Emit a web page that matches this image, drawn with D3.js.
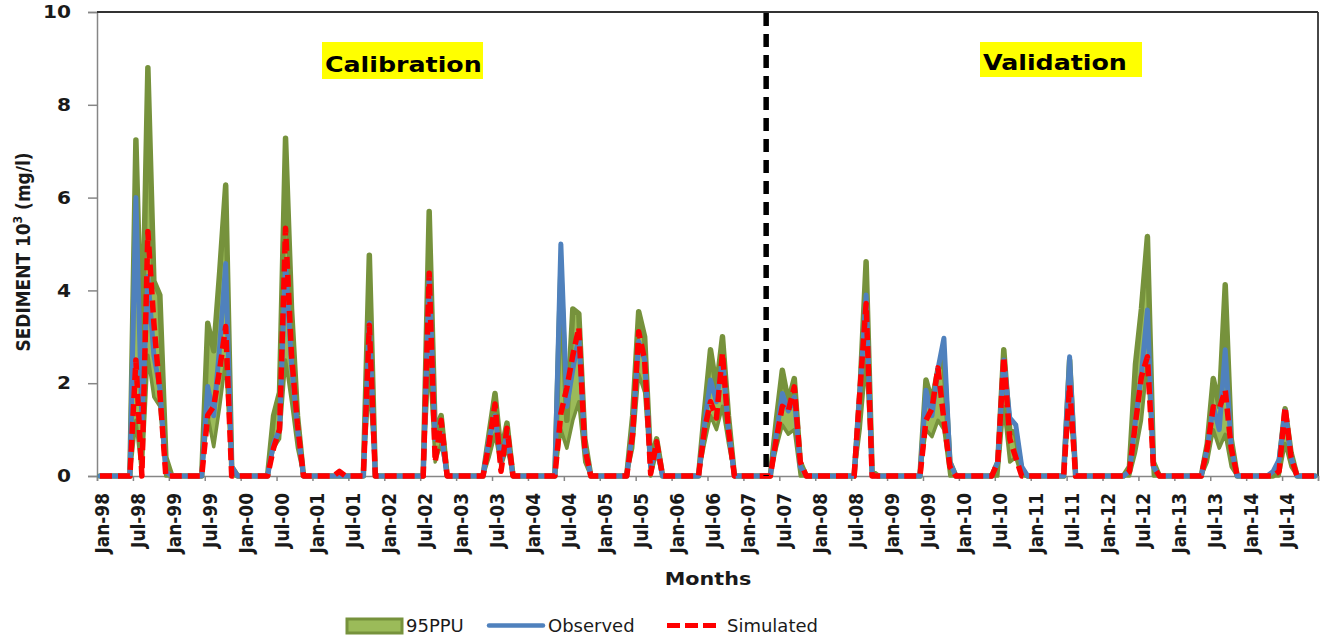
<!DOCTYPE html>
<html>
<head>
<meta charset="utf-8">
<script src="https://cdn.jsdelivr.net/npm/d3@7"></script>
<style>
  body { margin: 0; background: #fff; }
  text { font-family: "DejaVu Sans", sans-serif; }
</style>
</head>
<body>
<div id="chart"></div>
<script>
// monthly values, Jan-98 .. Dec-14 (12 per row)
var years = ['98', '99', '00', '01', '02', '03', '04', '05', '06', '07', '08', '09', '10', '11', '12', '13', '14'];

var upper95 = [
  0,0,0,0,0,0,7.24,2.5,8.8,4.2,3.9,0.4,     // 98
  0,0,0,0,0,0,3.29,2.7,4.4,6.27,0.2,0,      // 99
  0,0,0,0,0,1.3,1.8,7.28,3.6,1.3,0,0,       // 00
  0,0,0,0,0,0,0,0,0,4.76,0,0,               // 01
  0,0,0,0,0,0,0,5.7,0.9,1.3,0,0,            // 02
  0,0,0,0,0,0.9,1.78,0.5,1.14,0,0,0,        // 03
  0,0,0,0,0,4.4,1.2,3.6,3.5,0.8,0,0,        // 04
  0,0,0,0,0,1.3,3.54,3.0,0.3,0.8,0,0,       // 05
  0,0,0,0,0,1.4,2.72,1.9,3.0,1.3,0,0,       // 06
  0,0,0,0,0,1.2,2.28,1.6,2.1,0.3,0,0,       // 07
  0,0,0,0,0,0,0,1.9,4.62,0.1,0,0,           // 08
  0,0,0,0,0,0,2.07,1.6,2.3,2.5,0.3,0,       // 09
  0,0,0,0,0,0,0.3,2.72,1.0,0.9,0.1,0,       // 10
  0,0,0,0,0,0,2.5,0,0,0,0,0,                // 11
  0,0,0,0,0.2,2.4,3.6,5.16,0.3,0,0,0,       // 12
  0,0,0,0,0,0.7,2.1,1.5,4.12,0.8,0,0,       // 13
  0,0,0,0,0,0.3,1.45,0.5,0,0,0,0            // 14
];
var lower95 = [
  0,0,0,0,0,0,1.2,0,2.6,1.7,1.5,0,
  0,0,0,0,0,0,1.3,0.63,1.5,2.5,0,0,
  0,0,0,0,0,0.6,0.8,2.5,1.6,0.6,0,0,
  0,0,0,0,0,0,0,0,0,2.0,0,0,
  0,0,0,0,0,0,0,2.5,0.3,0.7,0,0,
  0,0,0,0,0,0.4,0.9,0.2,0.6,0,0,0,
  0,0,0,0,0,1.0,0.6,1.2,1.6,0.3,0,0,
  0,0,0,0,0,0.6,2.2,1.8,0,0.5,0,0,
  0,0,0,0,0,0.7,1.3,1.0,1.5,0.7,0,0,
  0,0,0,0,0,0.6,1.1,0.9,1.0,0,0,0,
  0,0,0,0,0,0,0,1.0,2.5,0,0,0,
  0,0,0,0,0,0,1.0,0.85,1.2,1.0,0,0,
  0,0,0,0,0,0,0,1.5,0.3,0.4,0,0,
  0,0,0,0,0,0,1.5,0,0,0,0,0,
  0,0,0,0,0,0.5,1.2,2.5,0,0,0,0,
  0,0,0,0,0,0.3,1.0,0.6,0.9,0.2,0,0,
  0,0,0,0,0,0,0.7,0.2,0,0,0,0
];
var observed = [
  0,0,0,0,0,0,6.0,1.2,4.3,2.6,1.9,0.1,
  0,0,0,0,0,0,1.93,1.3,2.8,4.58,0.2,0,
  0,0,0,0,0,0.7,1.0,4.6,2.4,1.0,0,0,
  0,0,0,0,0,0,0,0,0,3.3,0,0,
  0,0,0,0,0,0,0,4.3,0.8,0.9,0,0,
  0,0,0,0,0,0.8,1.3,0.3,0.9,0,0,0,
  0,0,0,0,0,5.0,1.5,2.3,3.0,0.6,0,0,
  0,0,0,0,0,1.0,2.9,2.5,0.2,0.6,0,0,
  0,0,0,0,0,1.1,2.07,1.6,2.5,1.0,0,0,
  0,0,0,0,0,0.9,1.78,1.4,1.7,0.2,0,0,
  0,0,0,0,0,0,0,1.9,3.9,0,0,0,
  0,0,0,0,0,0,1.85,1.3,2.3,2.97,0.3,0,
  0,0,0,0,0,0,0.3,2.5,1.25,1.1,0.2,0,
  0,0,0,0,0,0,2.57,0,0,0,0,0,
  0,0,0,0,0.1,1.2,2.2,3.58,0.2,0,0,0,
  0,0,0,0,0,0.6,1.5,1.0,2.72,0.6,0,0,
  0,0,0,0,0.1,0.35,1.4,0.4,0,0,0,0
];
var simulated = [
  0,0,0,0,0,0,2.5,0,5.27,3.3,1.8,0,
  0,0,0,0,0,0,1.31,1.5,2.3,3.22,0,0,
  0,0,0,0,0,0.6,1.0,5.34,2.6,1.1,0,0,
  0,0,0,0,0.1,0,0,0,0,3.25,0,0,
  0,0,0,0,0,0,0,4.37,0.3,1.2,0,0,
  0,0,0,0,0,0.7,1.55,0.1,1.03,0,0,0,
  0,0,0,0,0,1.35,1.9,2.6,3.2,0.6,0,0,
  0,0,0,0,0,0.9,3.11,2.5,0.05,0.74,0,0,
  0,0,0,0,0,1.0,1.6,1.25,2.65,1.0,0,0,
  0,0,0,0,0,0.8,1.5,1.4,1.92,0.3,0,0,
  0,0,0,0,0,0,0,1.9,3.72,0,0,0,
  0,0,0,0,0,0,1.2,1.45,2.33,1.2,0.2,0,
  0,0,0,0,0,0,0.3,2.57,0.8,0.4,0,0,
  0,0,0,0,0,0,1.96,0,0,0,0,0,
  0,0,0,0,0.1,1.14,2.14,2.57,0.2,0,0,0,
  0,0,0,0,0,0.6,1.49,1.45,1.85,0.6,0,0,
  0,0,0,0,0,0.1,1.49,0.4,0,0,0,0
];
var yTicks = [0, 2, 4, 6, 8, 10];
var tickLabels = years.flatMap(y => ['Jan-' + y, 'Jul-' + y]);
var splitMonth = 111.8;   // calibration / validation boundary (month position)

var svgWidth = 1322, svgHeight = 642;
var margin = { top: 12, right: 4, bottom: 166, left: 97 };
var width = svgWidth - margin.left - margin.right;
var height = svgHeight - margin.top - margin.bottom;
var stretch = 1.15;   // the source picture is a bit wide

var svg = d3.select("#chart").append("svg")
    .attr("width", svgWidth)
    .attr("height", svgHeight);
var g = svg.append("g")
    .attr("transform", `translate(${margin.left}, ${margin.top})`);

var x = d3.scaleLinear().domain([0, upper95.length]).range([0, width]);
var y = d3.scaleLinear().domain([0, 10]).range([height, 0]);

//axes
var yAxis = g.append("g")
    .call(d3.axisLeft(y).tickValues(yTicks).tickSize(9).tickPadding(17).tickFormat(d3.format("d")));
yAxis.select(".domain").attr("stroke", "#868686").attr("stroke-width", 1.5);
yAxis.selectAll(".tick line").attr("stroke", "#868686").attr("stroke-width", 1.5);
yAxis.selectAll(".tick text")
    .attr("font-size", 17.5).attr("font-weight", "bold").attr("fill", "#1a1a1a")
    .attr("font-family", "DejaVu Sans")
    .attr("transform", function () {
        var tx = +d3.select(this).attr("x");
        return `translate(${tx},0) scale(${stretch},1) translate(${-tx},0)`;
    });

var xTickVals = d3.range(0, upper95.length + 1, 6);
var xAxis = g.append("g")
    .attr("transform", `translate(0, ${height})`)
    .call(d3.axisBottom(x).tickValues(xTickVals).tickSize(5).tickFormat(""));
xAxis.select(".domain").attr("stroke", "#868686").attr("stroke-width", 1.5);
xAxis.selectAll(".tick line").attr("stroke", "#868686").attr("stroke-width", 1.5);

g.append("g").selectAll("text")
    .data(tickLabels)
    .enter()
    .append("text")
    .text(t => t)
    .attr("text-anchor", "end")
    .attr("font-size", 17)
    .attr("font-weight", "bold")
    .attr("fill", "#1a1a1a")
    .attr("transform", (t, i) => `translate(${x(i * 6) + 12}, ${height + 17}) scale(${stretch},1) rotate(-90)`);

//plot frame top and right
g.append("line").attr("x1", 0).attr("x2", width).attr("y1", 0).attr("y2", 0)
    .attr("stroke", "#333").attr("stroke-width", 1.8);
g.append("line").attr("x1", width).attr("x2", width).attr("y1", 0).attr("y2", height)
    .attr("stroke", "#333").attr("stroke-width", 1.8);

//95PPU band
var band = upper95.map((u, i) => ({ i: i, hi: u, lo: lower95[i] }));
g.append("path")
    .datum(band)
    .attr("fill", "#9bbb59")
    .attr("d", d3.area().x(d => x(d.i + 0.5)).y0(d => y(d.lo)).y1(d => y(d.hi)));
g.append("path")
    .datum(band)
    .attr("fill", "none").attr("stroke", "#76923c").attr("stroke-width", 3.5)
    .attr("stroke-linejoin", "round")
    .attr("d", d3.line().x(d => x(d.i + 0.5)).y(d => y(d.lo)));
g.append("path")
    .datum(band)
    .attr("fill", "none").attr("stroke", "#76923c").attr("stroke-width", 5.5)
    .attr("stroke-linejoin", "round").attr("stroke-linecap", "round")
    .attr("d", d3.line().x(d => x(d.i + 0.5)).y(d => y(d.hi)));

//observed and simulated
var seriesLine = d3.line().x((d, i) => x(i + 0.5)).y(d => y(d));
g.append("path")
    .datum(observed)
    .attr("fill", "none").attr("stroke", "#4f81bd").attr("stroke-width", 5)
    .attr("stroke-linejoin", "round").attr("stroke-linecap", "round")
    .attr("d", seriesLine);
g.append("path")
    .datum(simulated)
    .attr("fill", "none").attr("stroke", "#ff0000").attr("stroke-width", 5.5)
    .attr("stroke-dasharray", "12,6")
    .attr("stroke-linejoin", "round")
    .attr("d", seriesLine);

//boundary line
g.append("line")
    .attr("x1", x(splitMonth)).attr("x2", x(splitMonth))
    .attr("y1", y(10) + 1).attr("y2", y(0))
    .attr("stroke", "#000").attr("stroke-width", 5.5)
    .attr("stroke-dasharray", "13,8");

//period labels
var periods = [
    { name: "Calibration", left: 322, top: 42, w: 161, h: 37, base: 72 },
    { name: "Validation", left: 980, top: 42, w: 162, h: 35, base: 70 }
];
periods.forEach(p => {
    svg.append("rect")
        .attr("x", p.left).attr("y", p.top).attr("width", p.w).attr("height", p.h)
        .attr("fill", "#ffff00");
    svg.append("text")
        .text(p.name)
        .attr("font-size", 22).attr("font-weight", "bold").attr("fill", "#000")
        .attr("transform", `translate(${p.left + 3}, ${p.base}) scale(${stretch},1)`);
});

//axis titles
svg.append("text")
    .text("Months")
    .attr("text-anchor", "middle")
    .attr("font-size", 18).attr("font-weight", "bold").attr("fill", "#1a1a1a")
    .attr("transform", `translate(708, 585) scale(${stretch},1)`);

var yTitle = svg.append("text")
    .attr("text-anchor", "middle")
    .attr("font-size", 17).attr("font-weight", "bold").attr("fill", "#1a1a1a")
    .attr("transform", `translate(30, 252) scale(${stretch},1) rotate(-90)`);
yTitle.append("tspan").text("SEDIMENT 10");
yTitle.append("tspan").text("3").attr("font-size", 11).attr("dy", -7);
yTitle.append("tspan").text(" (mg/l)").attr("dy", 7);

//legend
var legend = svg.append("g").attr("font-family", "Open Sans").attr("font-size", 18).attr("fill", "#1a1a1a");
legend.append("rect").attr("x", 347).attr("y", 619).attr("width", 55).attr("height", 14)
    .attr("fill", "#9bbb59").attr("stroke", "#76923c").attr("stroke-width", 3);
legend.append("text").text("95PPU").attr("x", 406).attr("y", 632);
legend.append("line").attr("x1", 489).attr("x2", 543).attr("y1", 625.5).attr("y2", 625.5)
    .attr("stroke", "#4f81bd").attr("stroke-width", 4.5).attr("stroke-linecap", "round");
legend.append("text").text("Observed").attr("x", 548).attr("y", 632);
legend.append("line").attr("x1", 667).attr("x2", 717).attr("y1", 625.5).attr("y2", 625.5)
    .attr("stroke", "#ff0000").attr("stroke-width", 5).attr("stroke-dasharray", "13,5");
legend.append("text").text("Simulated").attr("x", 727).attr("y", 632);
</script>
</body>
</html>
